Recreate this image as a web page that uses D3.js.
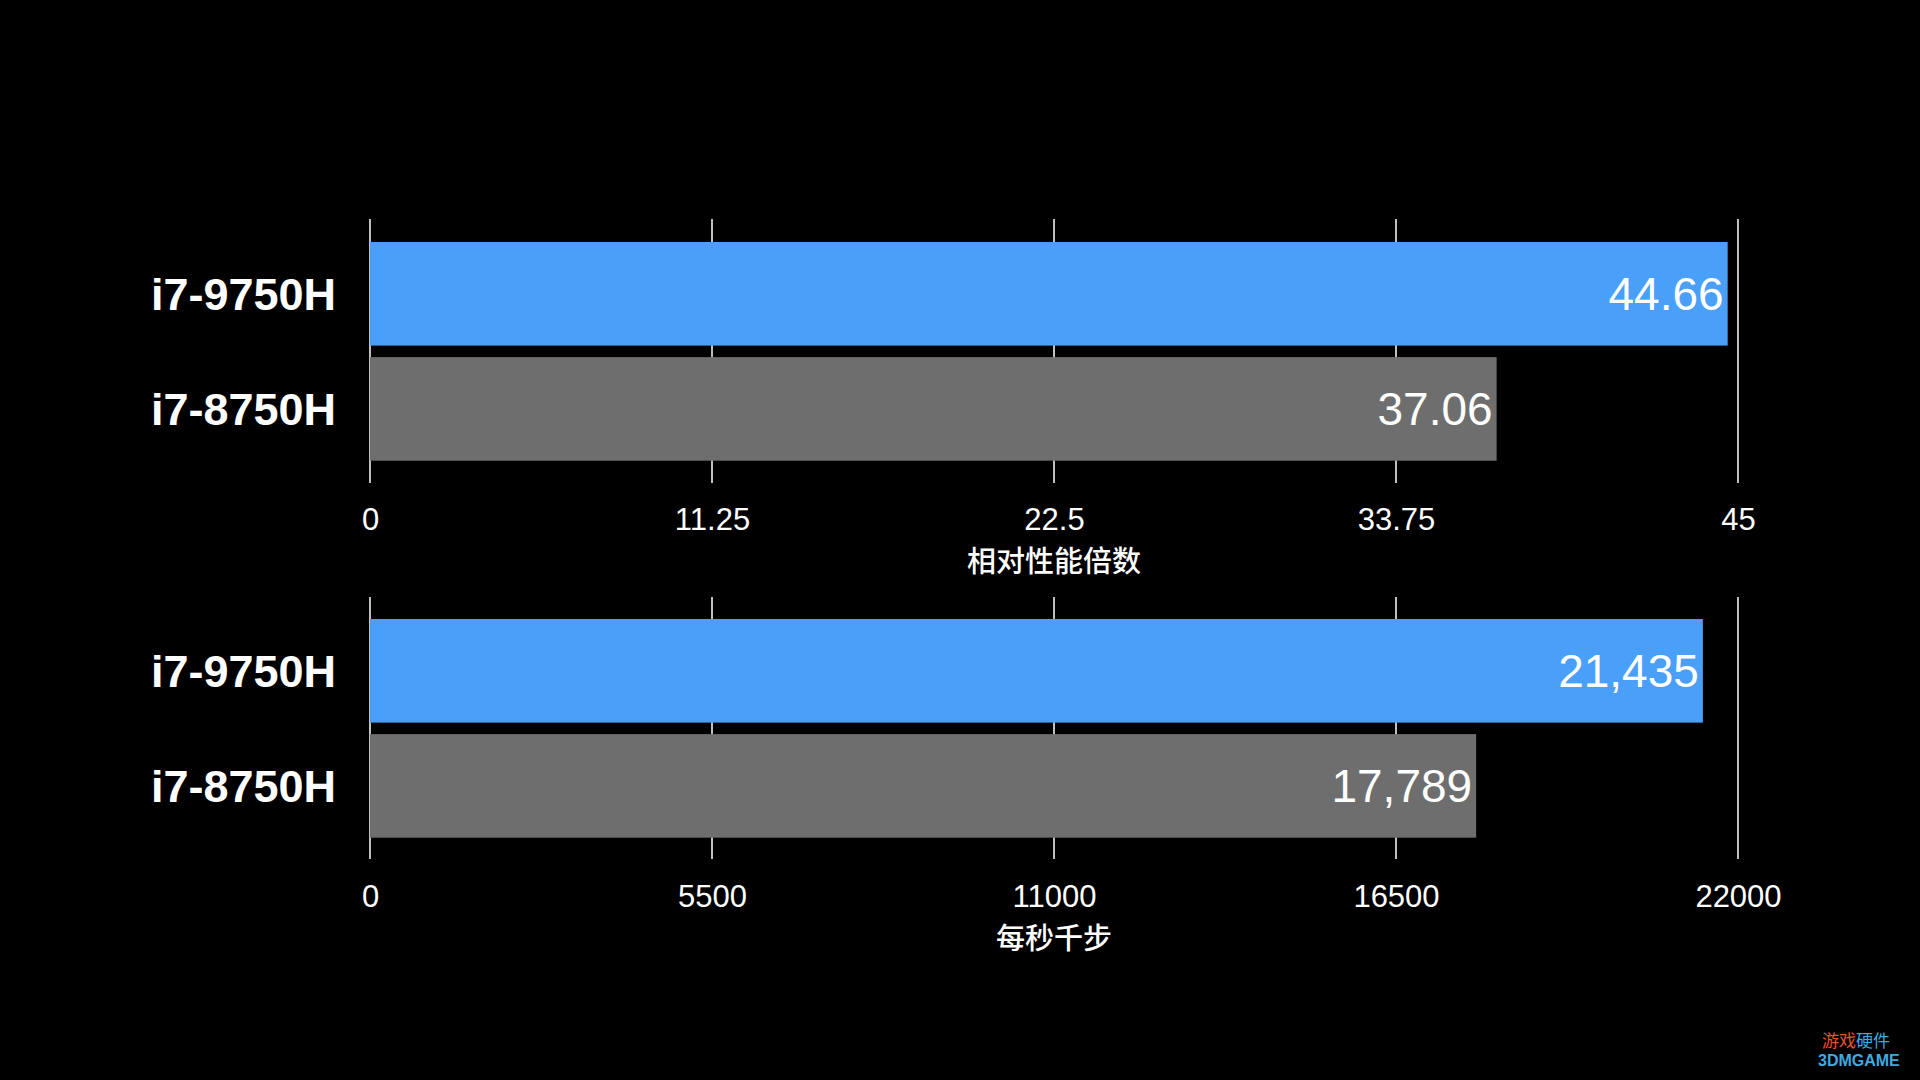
<!DOCTYPE html>
<html><head><meta charset="utf-8">
<script src="https://cdn.jsdelivr.net/npm/d3@7"></script>
<style>html,body{margin:0;padding:0;background:#000;}svg{display:block;}</style>
</head><body>
<svg id="chart" width="1920" height="1080"></svg>
<script>
const categories = ["i7-9750H", "i7-8750H"];
const colors = ["#4A9FF8", "#6E6E6E"];
const perfValues = [44.66, 37.06];
const perfTicks = [0, 11.25, 22.5, 33.75, 45];
const perfTitle = "相对性能倍数";
const stepValues = [21435, 17789];
const stepTicks = [0, 5500, 11000, 16500, 22000];
const stepTitle = "每秒千步";

const svg = d3.select("#chart");
svg.append("rect").attr("width",1920).attr("height",1080).attr("fill","#000");

const left = 370, right = 1738;
const font = "'Liberation Sans', Arial, Helvetica, sans-serif";
const cjk = "'Noto Sans CJK SC', 'Noto Sans', sans-serif";

function panel(cfg){
  const g = svg.append("g");
  const x = d3.scaleLinear().domain([cfg.ticks[0], cfg.ticks[cfg.ticks.length-1]]).range([left, right]);
  const y = d3.scaleBand().domain(categories).range([cfg.barTop, cfg.barBottom]).paddingInner(0.1);
  // gridlines
  g.selectAll("line.grid").data(cfg.ticks).enter().append("line")
    .attr("x1", d=>x(d)).attr("x2", d=>x(d))
    .attr("y1", cfg.gridTop).attr("y2", cfg.gridBottom)
    .attr("stroke","#fff").attr("stroke-width",1.5);
  // bars
  g.selectAll("rect.bar").data(cfg.values).enter().append("rect")
    .attr("x", x(0)).attr("y", (d,i)=>y(categories[i]))
    .attr("width", d=>x(d)-x(0)).attr("height", y.bandwidth())
    .attr("fill", (d,i)=>colors[i]);
  // value labels
  g.selectAll("text.val").data(cfg.values).enter().append("text")
    .attr("x", d=>x(d)-4).attr("y", (d,i)=>y(categories[i])+y.bandwidth()/2)
    .attr("dy","0.36em").attr("text-anchor","end")
    .attr("fill","#fff").attr("font-family",font).attr("font-size",46)
    .text(d=>cfg.fmt(d));
  // category labels
  g.selectAll("text.cat").data(categories).enter().append("text")
    .attr("x", 336).attr("y", d=>y(d)+y.bandwidth()/2)
    .attr("dy","0.36em").attr("text-anchor","end")
    .attr("fill","#fff").attr("font-family",font).attr("font-weight","bold").attr("font-size",45)
    .text(d=>d);
  // tick labels via axis
  const axis = d3.axisBottom(x).tickValues(cfg.ticks).tickSize(0).tickPadding(0).tickFormat(d=>cfg.tickFmt(d));
  const ag = g.append("g").attr("transform",`translate(0,${cfg.tickY})`).call(axis);
  ag.select(".domain").remove();
  ag.selectAll("text").attr("fill","#fff").attr("font-family",font).attr("font-size",31).attr("dy","0.36em");
  // axis title
  g.append("text").attr("x",(left+right)/2).attr("y",cfg.titleY).attr("dy","0.36em")
    .attr("text-anchor","middle").attr("fill","#fff").attr("font-family",cjk).attr("font-weight",500).attr("font-size",29)
    .text(cfg.title);
}

panel({values: perfValues, ticks: perfTicks, title: perfTitle,
  gridTop:219, gridBottom:483, barTop:242, barBottom:460.7, tickY:518.5, titleY:562,
  fmt: d=>d3.format(".2f")(d), tickFmt: d=>String(d)});
panel({values: stepValues, ticks: stepTicks, title: stepTitle,
  gridTop:597, gridBottom:859, barTop:619, barBottom:837.7, tickY:896, titleY:939,
  fmt: d=>d3.format(",")(d), tickFmt: d=>String(d)});

// watermark text
svg.append("text").attr("x",1822).attr("y",1047).attr("fill","#E8552B").attr("font-family",cjk).attr("font-size",17).text("游戏");
svg.append("text").attr("x",1856).attr("y",1047).attr("fill","#3FA9E0").attr("font-family",cjk).attr("font-size",17).text("硬件");
svg.append("text").attr("x",1818).attr("y",1066).attr("fill","#3FA9E0").attr("font-family",font).attr("font-weight","bold").attr("font-size",16).text("3DMGAME");
</script>
</body></html>
